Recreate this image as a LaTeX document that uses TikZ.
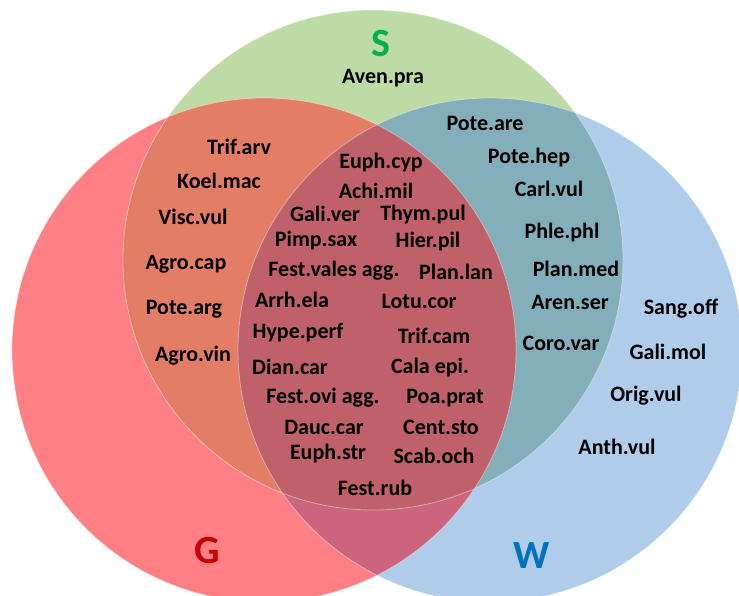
\documentclass[tikz,border=0pt]{standalone}
\usepackage{fontspec}
\setmainfont{Carlito}
\usetikzlibrary{positioning}
\definecolor{SOnly}{RGB}{190,218,165}
\definecolor{GOnly}{RGB}{255,128,132}
\definecolor{WOnly}{RGB}{175,205,235}
\definecolor{SG}{RGB}{228,125,102}
\definecolor{SW}{RGB}{130,175,185}
\definecolor{GW}{RGB}{205,100,125}
\definecolor{SGW}{RGB}{192,96,106}
\definecolor{SText}{RGB}{0,176,80}
\definecolor{GText}{RGB}{200,0,0}
\definecolor{WText}{RGB}{0,112,192}

\newcommand{\circS}{(373,260) circle[radius=250pt]}
\newcommand{\circG}{(264,350) circle[radius=252pt]}
\newcommand{\circW}{(490,350) circle[radius=252pt]}

\begin{document}
\begin{tikzpicture}[x=1pt,y=-1pt,
  species/.style={font=\bfseries\fontsize{22}{24}\selectfont,inner sep=0pt},
  setname/.style={font=\bfseries\fontsize{40}{42}\selectfont,inner sep=0pt}]
  \useasboundingbox (0,0) rectangle (739,596);
  % the three sets
  \fill[GOnly] \circG;
  \fill[WOnly] \circW;
  \fill[SOnly] \circS;
  \begin{scope}
    \clip \circG;
    \fill[GW] \circW;
  \end{scope}
  \begin{scope}
    \clip \circS;
    \fill[SG] \circG;
    \fill[SW] \circW;
    \clip \circG;
    \fill[SGW] \circW;
  \end{scope}
  \draw[white,opacity=0.4,line width=0.8pt] \circS \circG \circW;
  % set names
  \node[setname,SText] (S) at (381,44) {S};
  \node[setname,GText] (G) at (207,551) {G};
  \node[setname,WText] (W) at (532,556) {W};
  % S only
  \node[species] (avenpra) at (383,78) {Aven.pra};
  % S and W
  \node[species] (poteare) at (485,123) {Pote.are};
  \node[species] (potehep) at (529,158) {Pote.hep};
  \node[species] (carlvul) at (549,189) {Carl.vul};
  \node[species] (phlephl) at (562,233) {Phle.phl};
  \node[species] (planmed) at (576,269) {Plan.med};
  \node[species] (arenser) at (570,302) {Aren.ser};
  \node[species] (corovar) at (561,343) {Coro.var};
  % S and G
  \node[species] (trifarv) at (239,147) {Trif.arv};
  \node[species] (koelmac) at (219,181) {Koel.mac};
  \node[species] (viscvul) at (193,217) {Visc.vul};
  \node[species] (agrocap) at (186,264) {Agro.cap};
  \node[species] (potearg) at (184,309) {Pote.arg};
  \node[species] (agrovin) at (193,356) {Agro.vin};
  % S, G and W
  \node[species] (euphcyp) at (381,163) {Euph.cyp};
  \node[species] (achimil) at (376,191) {Achi.mil};
  \node[species] (galiver) at (325,214) {Gali.ver};
  \node[species] (thympul) at (423,215) {Thym.pul};
  \node[species] (pimpsax) at (316,241) {Pimp.sax};
  \node[species] (hierpil) at (428,242) {Hier.pil};
  \node[species] (festval) at (334,271) {Fest.vales agg.};
  \node[species] (planlan) at (456,272) {Plan.lan};
  \node[species] (arrhela) at (292,300) {Arrh.ela};
  \node[species] (lotucor) at (419,301) {Lotu.cor};
  \node[species] (hypeperf) at (298,333) {Hype.perf};
  \node[species] (trifcam) at (434,336) {Trif.cam};
  \node[species] (diancar) at (290,367) {Dian.car};
  \node[species] (calaepi) at (430,368) {Cala epi.};
  \node[species] (festovi) at (323,398) {Fest.ovi agg.};
  \node[species] (poaprat) at (445,398) {Poa.prat};
  \node[species] (dauccar) at (324,427) {Dauc.car};
  \node[species] (centsto) at (441,427) {Cent.sto};
  \node[species] (euphstr) at (328,454) {Euph.str};
  \node[species] (scaboch) at (434,456) {Scab.och};
  \node[species] (festrub) at (375,488) {Fest.rub};
  % W only
  \node[species] (sangoff) at (681,309) {Sang.off};
  \node[species] (galimol) at (668,352) {Gali.mol};
  \node[species] (origvul) at (646,396) {Orig.vul};
  \node[species] (anthvul) at (617,447) {Anth.vul};
\end{tikzpicture}
\end{document}
